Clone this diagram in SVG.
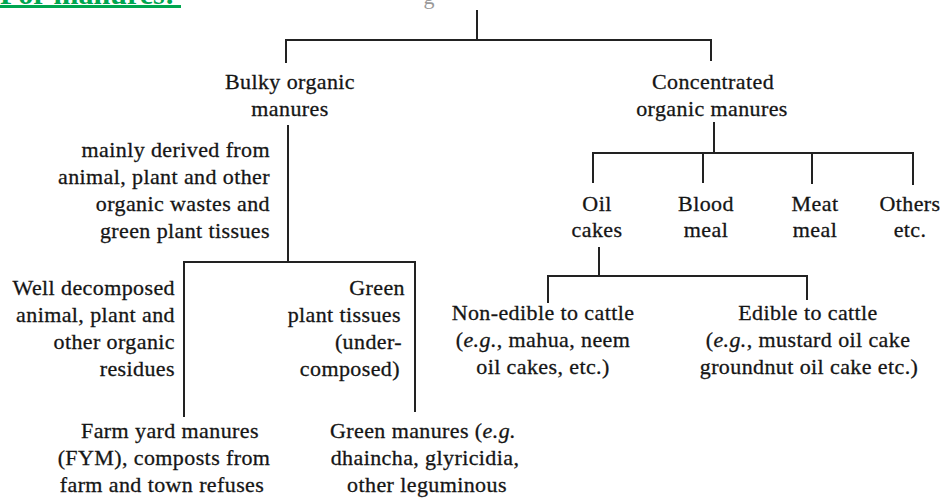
<svg xmlns="http://www.w3.org/2000/svg" width="942" height="500" viewBox="0 0 942 500">
<style>
.t{font-size:22px;fill:#151515;stroke:#151515;stroke-width:0.3px;letter-spacing:0.4px}
.m{text-anchor:middle}
.e{text-anchor:end}
.c{stroke:#222;stroke-width:2;fill:none}
.title{font-size:30px;font-weight:bold;fill:#00a650}
</style>
<rect width="942" height="500" fill="#ffffff"/>
<g font-family="Liberation Serif">
<g id="title">
<text class="title" x="0" y="4">For manures:</text>
<rect x="0" y="5" width="181" height="3" fill="#00a650"/>
<text x="429" y="4" font-size="22" fill="#999" text-anchor="middle">g</text>
</g>
<g id="connectors">
<path class="c" d="M477 10V40M286 63V40H711V61"/>
<path class="c" d="M288 125V262M184 417V262H415V412"/>
<path class="c" d="M714 122V153M593 183V153H913V185M703 153V183M812 153V184"/>
<path class="c" d="M599 247V276M548 303V276H807V300"/>
</g>
<g id="bulky">
<text class="t m" x="290" y="89">Bulky organic</text>
<text class="t m" x="290" y="116">manures</text>
</g>
<g id="derived">
<text class="t e" x="270" y="157">mainly derived from</text>
<text class="t e" x="270" y="184">animal, plant and other</text>
<text class="t e" x="270" y="211">organic wastes and</text>
<text class="t e" x="270" y="238">green plant tissues</text>
</g>
<g id="well-decomposed">
<text class="t e" x="175" y="295">Well decomposed</text>
<text class="t e" x="175" y="322">animal, plant and</text>
<text class="t e" x="175" y="349">other organic</text>
<text class="t e" x="175" y="376">residues</text>
</g>
<g id="green-plant">
<text class="t e" x="405" y="295">Green</text>
<text class="t e" x="401" y="322">plant tissues</text>
<text class="t e" x="402" y="349">(under-</text>
<text class="t e" x="400" y="376">composed)</text>
</g>
<g id="fym">
<text class="t m" x="170" y="438">Farm yard manures</text>
<text class="t m" x="164" y="465">(FYM), composts from</text>
<text class="t m" x="162" y="492">farm and town refuses</text>
</g>
<g id="green-manures">
<text class="t m" x="423" y="438">Green manures (<tspan font-style="italic">e.g.</tspan></text>
<text class="t m" x="425" y="465">dhaincha, glyricidia,</text>
<text class="t m" x="427" y="492">other leguminous</text>
</g>
<g id="concentrated">
<text class="t m" x="713" y="89">Concentrated</text>
<text class="t m" x="712" y="116">organic manures</text>
</g>
<g id="oil-cakes">
<text class="t m" x="597" y="211">Oil</text>
<text class="t m" x="597" y="237">cakes</text>
</g>
<g id="blood-meal">
<text class="t m" x="706" y="211">Blood</text>
<text class="t m" x="706" y="237">meal</text>
</g>
<g id="meat-meal">
<text class="t m" x="815" y="211">Meat</text>
<text class="t m" x="815" y="237">meal</text>
</g>
<g id="others">
<text class="t m" x="910" y="211">Others</text>
<text class="t m" x="910" y="237">etc.</text>
</g>
<g id="non-edible">
<text class="t m" x="543" y="320">Non-edible to cattle</text>
<text class="t m" x="543" y="347">(<tspan font-style="italic">e.g.</tspan>, mahua, neem</text>
<text class="t m" x="543" y="374">oil cakes, etc.)</text>
</g>
<g id="edible">
<text class="t m" x="808" y="320">Edible to cattle</text>
<text class="t m" x="808" y="347">(<tspan font-style="italic">e.g.</tspan>, mustard oil cake</text>
<text class="t m" x="809" y="374">groundnut oil cake etc.)</text>
</g>
</g>
</svg>
